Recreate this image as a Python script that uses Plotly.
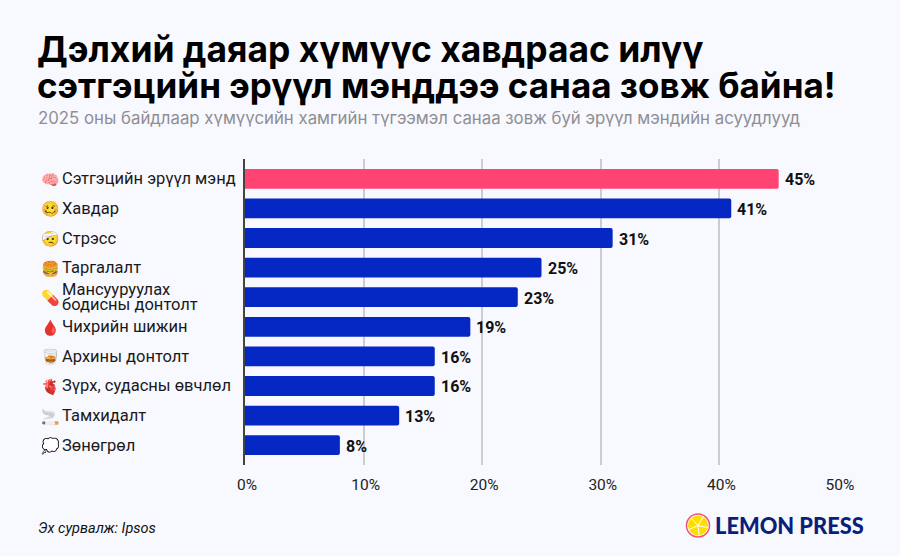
import math
import plotly.graph_objects as go

categories = ["Сэтгэцийн эрүүл мэнд", "Хавдар", "Стрэсс", "Таргалалт",
              "Мансууруулах|бодисны донтолт", "Чихрийн шижин", "Архины донтолт",
              "Зүрх, судасны өвчлөл", "Тамхидалт", "Зөнөгрөл"]
values = [45, 41, 31, 25, 23, 19, 16, 16, 13, 8]
emoji = ["🧠", "🥴", "🤕", "🍔", "💊", "🩸", "🥃", "🫀", "🚬", "💭"]
colors = ["#FF4473"] + ["#0527C4"] * 9
tick_vals = [0, 10, 20, 30, 40, 50]
tick_text = [f"{v}%" for v in tick_vals]

BG = "#F8F8FF"
W, H = 900, 556
L, R, T, B = 245, 838, 159, 465


def px(x):
    """Page pixel column to paper coordinate."""
    return (x - L) / (R - L)


def py(y):
    """Page pixel row to paper coordinate."""
    return (B - y) / (B - T)


def page_text(x, y, text, **font):
    return dict(x=px(x), y=py(y), xref="paper", yref="paper", text=text, showarrow=False,
                xanchor="left", yanchor="middle", align="left", borderpad=0, font=font)


fig = go.Figure(go.Bar(
    y=list(range(len(values))), x=values, orientation="h",
    marker=dict(color=colors, line=dict(width=0), cornerradius=2), width=0.67,
    hoverinfo="skip",
))

notes = []
label_font = dict(family="Roboto", size=16.5, color="#1a1a1a")
for i, (cat, icon, val) in enumerate(zip(categories, emoji, values)):
    notes.append(dict(x=px(50), xref="paper", y=i, yref="y", text=icon, showarrow=False,
                      xanchor="center", yanchor="middle", font=dict(size=15), borderpad=0))
    lines = cat.split("|")
    shifts = [7.5, -7.5] if len(lines) == 2 else [0]
    for line, shift in zip(lines, shifts):
        notes.append(dict(x=px(61), xref="paper", y=i, yref="y", text=line, showarrow=False,
                          xanchor="left", yanchor="middle", yshift=shift, borderpad=0, font=label_font))
    notes.append(dict(x=val, xref="x", y=i, yref="y", text=f"<b>{val}%</b>", showarrow=False,
                      xanchor="left", yanchor="middle", xshift=5, yshift=-1, borderpad=0,
                      font=dict(family="Roboto", size=16, color="#111111")))

notes += [
    page_text(36, 50, "<b>Дэлхий даяар хүмүүс хавдраас илүү</b>", family="Inter", size=35.4, color="#000000"),
    page_text(36, 85, "<b>сэтгэцийн эрүүл мэнддээ санаа зовж байна!</b>", family="Inter", size=35, color="#000000"),
    page_text(37, 118, "2025 оны байдлаар хүмүүсийн хамгийн түгээмэл санаа зовж буй эрүүл мэндийн асуудлууд",
              family="Inter", size=16.8, color="#8E8E93"),
    page_text(37, 528, "<i>Эх сурвалж: Ipsos</i>", family="Roboto", size=14.5, color="#111111"),
    page_text(714, 525.5, "LEMON PRESS", family="Lato", size=21.8, color="#0B1F7A", weight=900),
]

# Lemon-slice mark beside the publisher name
cx, cy = 698, 525.5
shapes = [
    dict(type="circle", xref="paper", yref="paper", x0=px(cx - 11.5), x1=px(cx + 11.5),
         y0=py(cy + 11.5), y1=py(cy - 11.5), fillcolor="#FFFFFF", line=dict(color="#F4517A", width=1.5)),
    dict(type="circle", xref="paper", yref="paper", x0=px(cx - 10), x1=px(cx + 10),
         y0=py(cy + 10), y1=py(cy - 10), fillcolor="#FFDD00", line=dict(width=0)),
]
for k in range(5):
    a = math.radians(-60 + 72 * k)
    shapes.append(dict(type="line", xref="paper", yref="paper", x0=px(cx), y0=py(cy),
                       x1=px(cx + 10.5 * math.cos(a)), y1=py(cy + 10.5 * math.sin(a)),
                       line=dict(color="#FFFFFF", width=1)))

fig.update_layout(
    width=W, height=H, margin=dict(l=L, r=W - R, t=T, b=H - B),
    paper_bgcolor=BG, plot_bgcolor=BG, showlegend=False, annotations=notes, shapes=shapes,
    xaxis=dict(range=[0, 50], tickvals=tick_vals, ticktext=tick_text, showgrid=True,
               gridcolor="#CDCDD1", gridwidth=1.5, zeroline=False, showline=False,
               ticks="", tickfont=dict(family="Roboto", size=15.5, color="#222222"),
               ticklabelstandoff=8, ticklabelshift=2),
    yaxis=dict(range=[9.67, -0.67], showticklabels=False, showgrid=False, zeroline=False,
               showline=True, linecolor="#444444", linewidth=1.5),
)
fig.write_html("out.html")
